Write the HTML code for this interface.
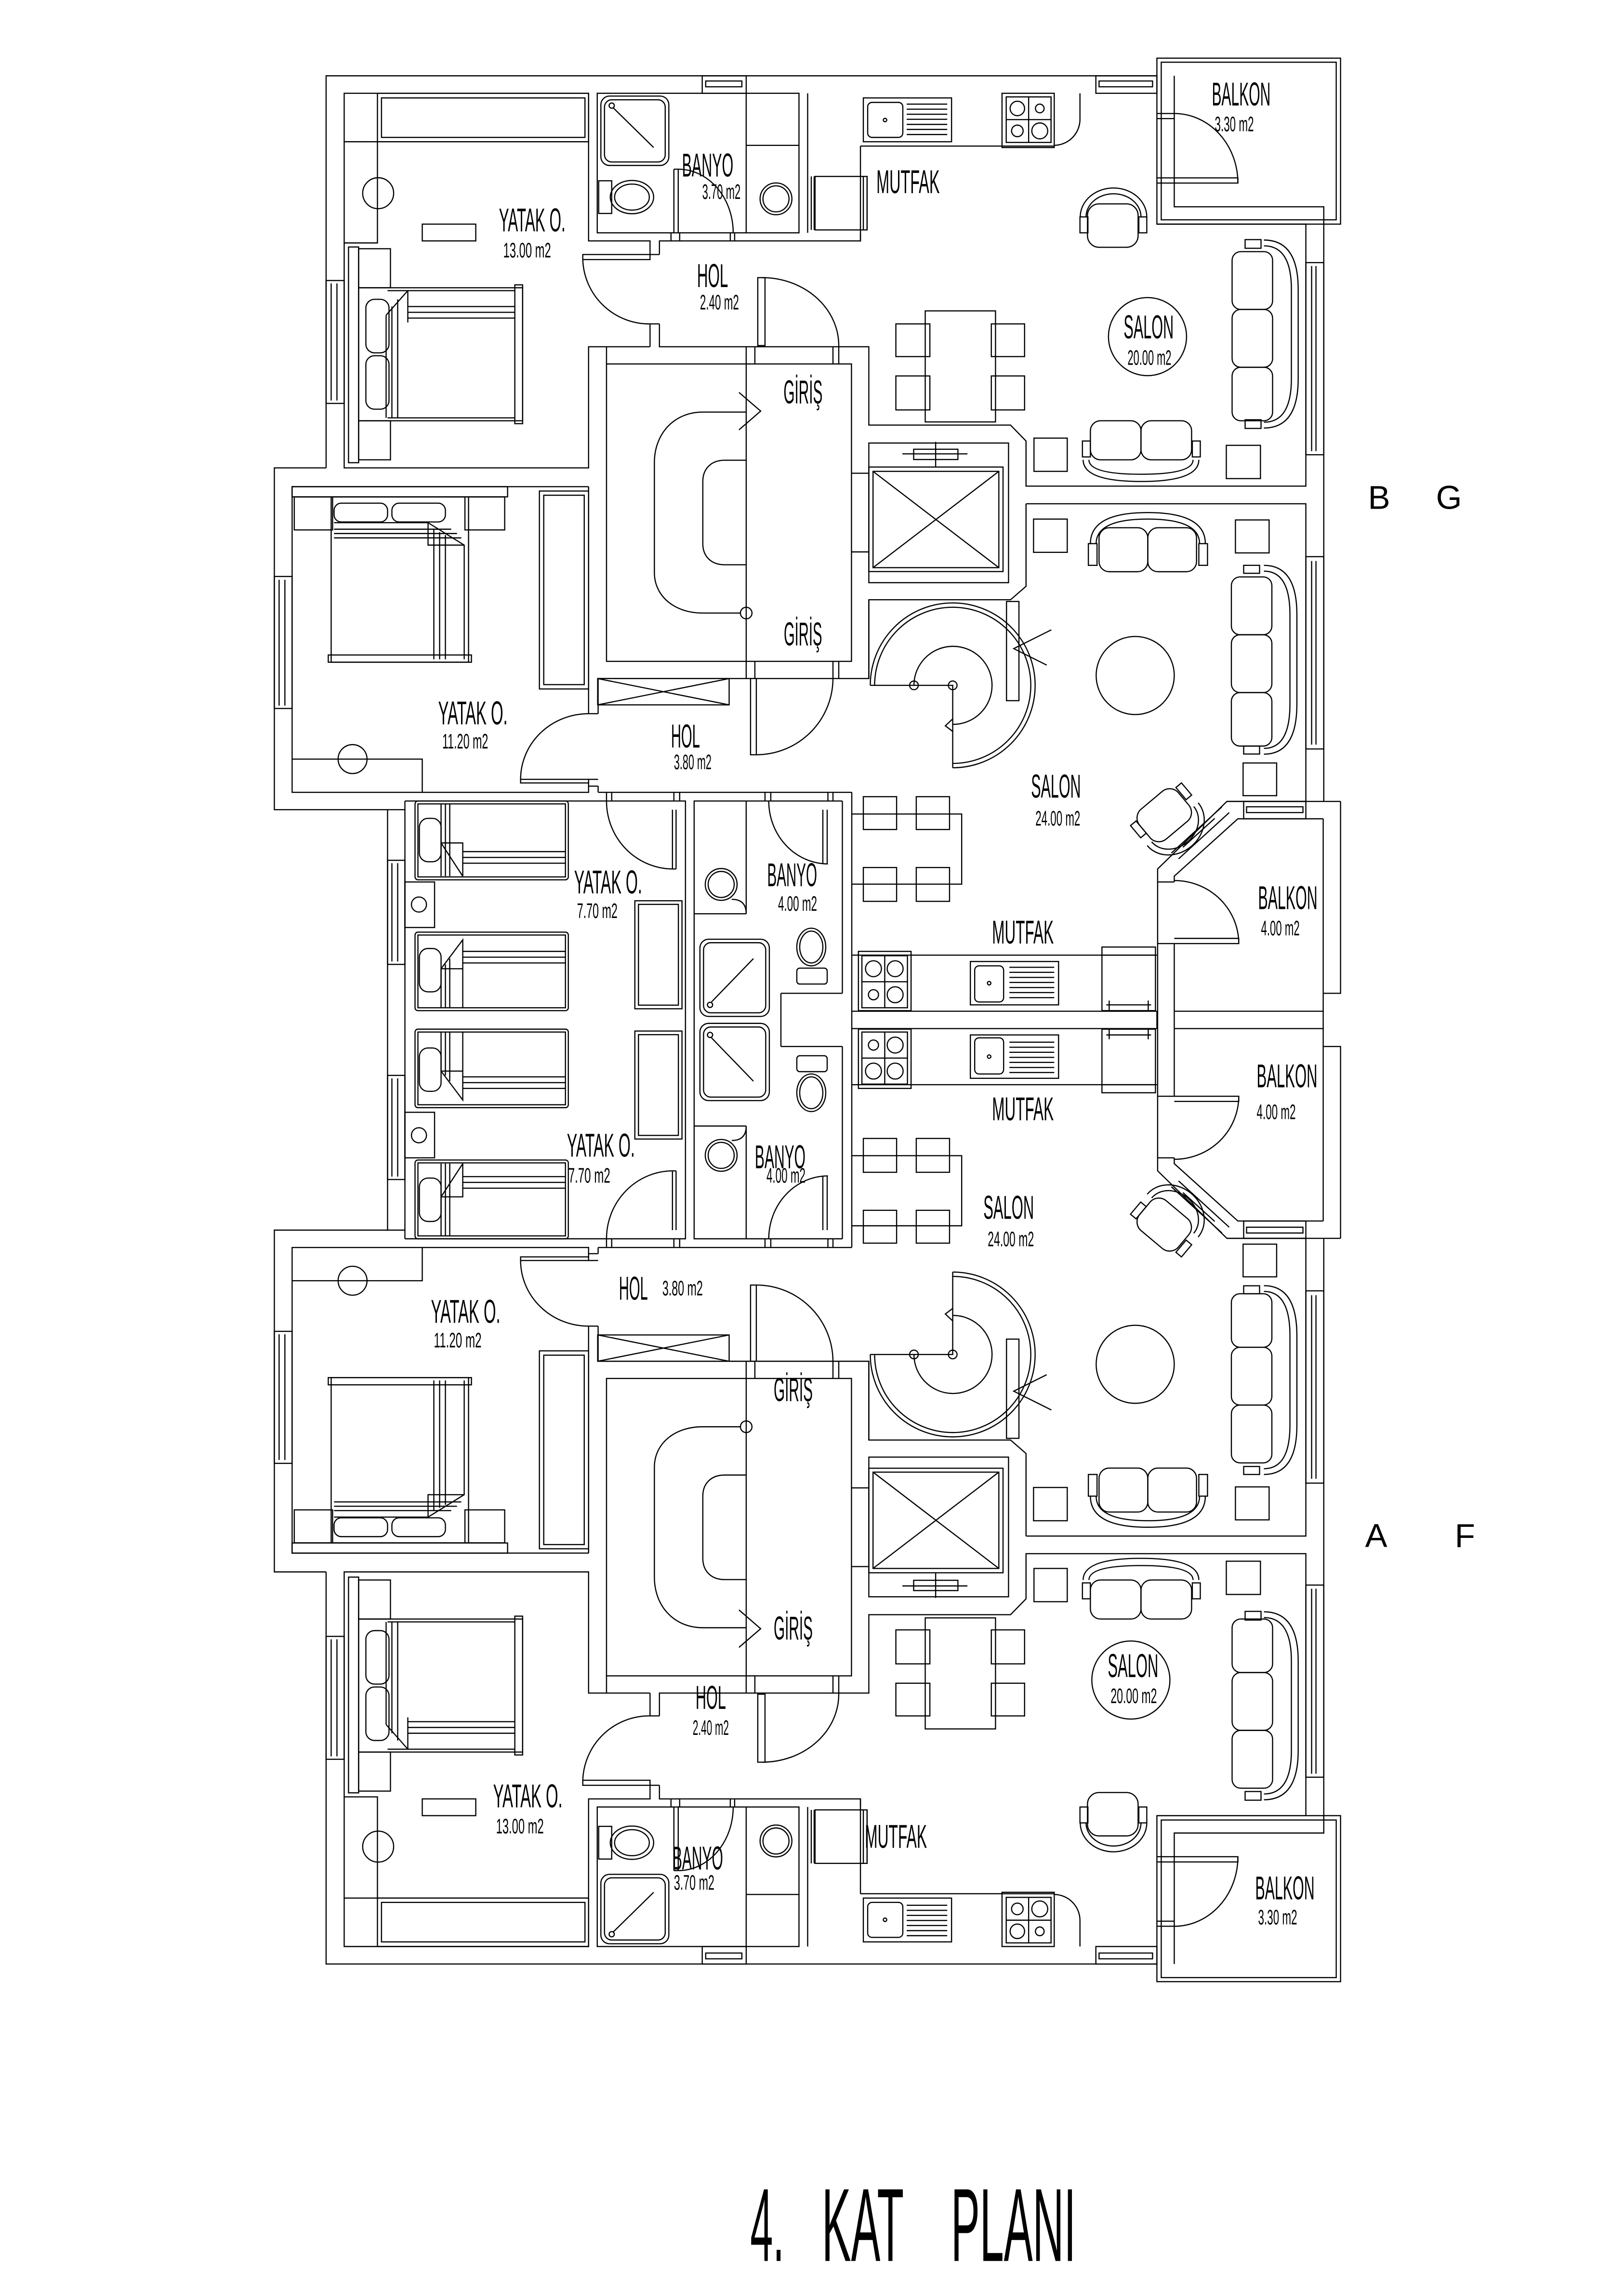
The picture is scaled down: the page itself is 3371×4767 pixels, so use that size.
<!DOCTYPE html>
<html><head><meta charset="utf-8"><style>
html,body{margin:0;padding:0;background:#fff;}
svg{display:block;}
text{font-family:"Liberation Sans",sans-serif;fill:#000;}
</style></head><body>
<svg width="3371" height="4767" viewBox="0 0 1123 1588" xmlns="http://www.w3.org/2000/svg">
<defs>
<g id="h" fill="none" stroke="#000" stroke-width="0.8">
<path d="M225.5,323.6 V52.4 H800"/>
<path d="M225.5,323.6 H189.7 V560 H268 V705.4"/>
<rect x="800" y="40.2" width="127" height="114.8"/>
<rect x="803" y="43" width="121" height="109"/>
<path d="M812,52.4 V143 H915.4 V155"/>
<path d="M800,78.5 H812 M800,82 H812 M800,123 H812 M800,126.6 H812"/>
<path d="M812,126.6 H856 V123 H812"/>
<path d="M812,78.5 A44,48 0 0 1 856,126.6"/>
<path d="M915.4,155 V554.3"/>
<path d="M800,155 H903 V336.2 H709.5 V305 L698.8,294 H600.8 V239.8 H455.6"/>
<path d="M449.5,239.8 H407 V323.6 H238 V64.5 H407 V166.6 H449.5 V176 M449.5,224 V239.8"/>
<path d="M456,176 V166.6 H595 V161 M456,224 V239.8"/>
<path d="M449.5,176 H456 M449.5,224 H456"/>
<path d="M403,176 H449.5 V179.5 H403 Z"/>
<path d="M403,179.5 A46,46 0 0 0 449.5,224"/>
<rect x="485.6" y="52.4" width="30.4" height="12.1"/><path d="M488,56 H513 V60 H488 Z"/>
<rect x="757.8" y="52.4" width="42.2" height="12.1"/><path d="M760,56 H797 V60 H760 Z"/>
<rect x="903" y="181.6" width="12.4" height="132.9"/><path d="M907,184 V312 M910,184 V312"/>
<rect x="903" y="385" width="12.4" height="133"/><path d="M907,388 V515 M910,388 V515"/>
<rect x="225.5" y="194" width="12.5" height="85"/><path d="M229,196 V277 M233,196 V277"/>
<rect x="189.7" y="398.7" width="12.3" height="91.3"/><path d="M193,401 V488 M197,401 V488"/>
<rect x="268" y="595" width="12" height="72"/><path d="M271,597 V665 M275,597 V665"/>
<path d="M709.5,348.4 H903 V554.3 H848.4 L800.5,601 V705.4"/>
<path d="M709.5,348.4 V405.5 L698.8,414.8 H600.8 V469.3 H413.6"/>
<path d="M915,566.3 H856 L812,606 V610 M812,652.6 V705.4"/>
<path d="M927,554.3 V687 H915 V705.4 M915,566.3 V687 M848.4,554.3 H927"/>
<rect x="860" y="554.3" width="43" height="12"/><path d="M862,558 H901 V562 H862 Z"/>
<path d="M810,590 L845,558 M815,594 L850,562 M818,586 L840,566"/>
<path d="M800.5,610 H812 M800.5,652.6 H812"/>
<path d="M812,652.6 H856.6 V649 H812"/>
<path d="M812,609 A44.6,43.6 0 0 1 856.6,652.6"/>
<path d="M812,699.4 H915"/>
<path d="M589,548 V705.4 M582.5,554 V687 M540,687 H582.5 M540,687 V705.4"/>
<path d="M589,660.6 H800 M589,699.4 H800 M800,699.4 V705.4"/>
<rect x="593.6" y="658" width="36.4" height="41"/><rect x="596" y="661" width="31.5" height="36"/>
<path d="M596,679 H627.5 M611.8,661 V697"/>
<circle cx="604" cy="670" r="5.5"/><circle cx="619" cy="670" r="5.5"/><circle cx="604" cy="688" r="3.5"/><circle cx="619" cy="688" r="5.5"/>
<rect x="671" y="665" width="61" height="30"/><rect x="674" y="668" width="20" height="25" rx="3"/><circle cx="684" cy="680" r="1.2"/>
<path d="M698,669 H729 M698,672.5 H729 M698,676 H729 M698,679.5 H729 M698,683 H729 M698,686.5 H729 M698,690 H729"/>
<rect x="762" y="655" width="37" height="44"/><path d="M762,660.6 H799 M765,695 H796 M767,692 V699 M794,692 V699"/>
<path d="M558.5,161 V64.5 M595,101 H729 M595,101 V167 M746.8,64.5 V82.5 A18,18 0 0 1 729,100.5"/>
<rect x="597" y="67.7" width="61" height="30.3"/><rect x="600" y="70.8" width="24.3" height="24.2" rx="3"/><circle cx="612" cy="83" r="1.2"/>
<path d="M627,72 H655 M627,75.5 H655 M627,79 H655 M627,82.5 H655 M627,86 H655 M627,89.5 H655 M627,93 H655"/>
<rect x="692.9" y="64.5" width="36.1" height="37.5"/><rect x="695.8" y="67" width="31" height="31.5"/>
<path d="M695.8,82.7 H726.8 M711.3,67 V98.5"/>
<circle cx="703.5" cy="75" r="5"/><circle cx="719" cy="75" r="3"/><circle cx="703.5" cy="90.5" r="4"/><circle cx="719" cy="90.5" r="5.5"/>
<rect x="563.6" y="122" width="36" height="37"/><path d="M561,122 V159 M563,122 V159 M597,122 V159 M599.6,122 V159"/>
<rect x="413" y="64.5" width="139.5" height="96.5"/>
<path d="M516,64.5 V161 M516,100.5 H552.5"/>
<circle cx="536.6" cy="137.5" r="11"/><circle cx="536.6" cy="137.5" r="9"/>
<rect x="415.5" y="66.4" width="47" height="48" rx="6"/><rect x="418" y="69" width="42" height="43" rx="5"/>
<circle cx="423" cy="73" r="1.8"/><path d="M424,74.5 L452,102"/>
<rect x="414" y="125" width="9" height="22.6"/><ellipse cx="437" cy="136.3" rx="15" ry="11.5"/><ellipse cx="437" cy="136.3" rx="12" ry="9"/>
<path d="M466,117 V161 M469,117 V161 M466,117 H469"/>
<path d="M469,117 A38,44 0 0 1 507,161"/>
<path d="M464,161 V166.6 M470,161 V166.6 M505,161 V166.6 M508,161 V166.6"/>
<rect x="261" y="64.5" width="146" height="33.5"/><rect x="263.8" y="67.7" width="140.7" height="27.3"/>
<path d="M238,98 H407 M261,98 V168 H238"/>
<circle cx="261.5" cy="133.6" r="10.7"/>
<rect x="292" y="155" width="37" height="11.6"/>
<rect x="241" y="170.8" width="7" height="149.2"/>
<rect x="248" y="172" width="22" height="27"/><rect x="248" y="291" width="22" height="27"/>
<rect x="248" y="199" width="113.4" height="92"/>
<rect x="356" y="197" width="5.4" height="96"/>
<rect x="253" y="207" width="16" height="37" rx="6"/><rect x="253" y="246" width="16" height="37" rx="6"/>
<path d="M267,218 L282,201 M267,218 V289 M271,212 V289 M275,207 V289 M282,201 V223 M268,201 H356 M282,212 H356 M282,216 H356 M282,220 H356 M268,289 H356"/>
<path d="M516,239.8 V251.7 M522,239.8 V251.7 M576,239.8 V251.7 M580,239.8 V251.7"/>
<path d="M524,192 H529 V239 H524 Z"/>
<path d="M527,192 A53,47 0 0 1 580,239.8"/>
<rect x="419.4" y="251.7" width="169.4" height="205.7"/>
<path d="M516,251.7 V457.4"/>
<path d="M588.8,327.3 H600.8 M588.8,381.7 H600.8"/>
<path d="M516,285 H486 C466,285 452.5,300 452.5,320 V396 C452.5,412 466,424 486,424 H512"/>
<circle cx="516" cy="424" r="4"/>
<path d="M516,318.3 H501 C492,318.3 486,324 486,333 V376 C486,385 492,390.6 501,390.6 H516"/>
<path d="M511,271.4 L526,284.3 L511,297.3"/>
<rect x="600.8" y="306.4" width="96.6" height="96.6"/>
<rect x="600.8" y="323" width="92.8" height="72.3"/>
<rect x="603.7" y="326" width="87" height="66.6"/>
<path d="M603.7,326 L690.7,392.6 M690.7,326 L603.7,392.6"/>
<rect x="631.8" y="310.7" width="30.6" height="7.1"/><path d="M624,313.9 H669 M647,305.6 V322.6"/>
<path d="M601.8,474 A57,57 0 1 1 658.8,531 M604.8,474 A54,54 0 1 1 658.8,528"/>
<path d="M601.8,474 H658.8 V531"/>
<path d="M632,474 A27,27 0 1 1 658.8,501"/>
<circle cx="632" cy="474" r="3"/><circle cx="658.8" cy="474" r="3"/>
<path d="M659,497 L653.7,502 L659,506"/>
<rect x="696" y="416" width="8.6" height="68.6"/>
<path d="M727,435.6 L701,448.6 L723.8,460"/>
<rect x="639.8" y="215" width="48.6" height="76.8"/>
<rect x="619.5" y="224" width="23.5" height="22.6"/><rect x="619.5" y="260" width="23.5" height="23.5"/>
<rect x="685.5" y="224" width="23" height="22.6"/><rect x="685.5" y="260" width="23" height="23.5"/>
<rect x="715" y="303" width="23" height="23"/><rect x="848" y="308" width="23.6" height="23"/>
<rect x="752" y="141" width="35" height="30" rx="8"/>
<path d="M747,150 A23,20 0 0 1 793,150 M751,150 A19,16 0 0 1 789,150"/>
<rect x="746.8" y="150" width="5.5" height="11"/><rect x="787.5" y="150" width="5.5" height="11"/>
<rect x="754" y="291" width="35" height="27" rx="7"/><rect x="789" y="291" width="35" height="27" rx="7"/>
<path d="M749,318 Q749,333 789,333 Q829,333 829,318 M753,318 Q753,328 789,328 Q825,328 825,318"/>
<rect x="748.5" y="305" width="5.5" height="11"/><rect x="824.5" y="305" width="5.5" height="11"/>
<rect x="852" y="174" width="28" height="40" rx="6"/><rect x="852" y="214" width="28" height="40" rx="6"/><rect x="852" y="254" width="28" height="37" rx="6"/>
<path d="M874,166 Q897.7,166 897.7,200 V262 Q897.7,296 874,296 M874,170 Q893,170 893,200 V262 Q893,292 874,292"/>
<rect x="861" y="165.7" width="11" height="6"/><rect x="861" y="290.3" width="11" height="6"/>
<rect x="714.7" y="359" width="23.3" height="23"/><rect x="854.3" y="359.6" width="23.3" height="22.8"/><rect x="859.6" y="527.7" width="23.2" height="22.6"/>
<rect x="760" y="365" width="33.7" height="30.4" rx="7"/><rect x="793.7" y="365" width="33.7" height="30.4" rx="7"/>
<path d="M754,376 Q754,354.5 793.7,354.5 Q833.5,354.5 833.5,376 M758,376 Q758,359 793.7,359 Q829.5,359 829.5,376"/>
<rect x="752.6" y="376" width="6" height="15"/><rect x="829" y="376" width="6" height="15"/>
<rect x="851.5" y="399" width="28" height="40" rx="6"/><rect x="851.5" y="439" width="28" height="40" rx="6"/><rect x="851.5" y="479" width="28" height="37" rx="6"/>
<path d="M874,391 Q896.8,391 896.8,425 V487 Q896.8,521.6 874,521.6 M874,395 Q892,395 892,425 V487 Q892,517.6 874,517.6"/>
<rect x="860" y="391" width="11" height="5.5"/><rect x="860" y="516" width="11" height="5.5"/>
<ellipse cx="785" cy="467.2" rx="27" ry="27"/>
<g transform="rotate(-40 800 557)">
<rect x="782" y="552" width="35" height="27" rx="8"/>
<path d="M777,558 A23,20 0 0 1 823,558 M781,558 A19,16 0 0 1 819,558" transform="rotate(180 800 566)"/>
<rect x="777" y="556" width="5" height="11"/><rect x="818" y="556" width="5" height="11"/>
</g>
<path d="M589,563 H665 V611.5 H589"/>
<rect x="597" y="551" width="23" height="22.7"/><rect x="633.6" y="551" width="23" height="22.7"/>
<rect x="597" y="600" width="23" height="23.4"/><rect x="633.6" y="600" width="23" height="23.4"/>
<path d="M407,336.6 H202 V548 H407 V541 M407,493.6 V336.6"/>
<path d="M413.6,469.3 V493.6 M413.6,543.7 V548 M407,493.6 H413.6 M407,539 H413.6 M407,543.7 H413.6"/>
<path d="M360,539 H407 V541.5 H360 Z"/>
<path d="M360,539 A47,45.4 0 0 1 407,493.6"/>
<path d="M407,336.6 V469.3 M419.4,251.7 V239.8"/>
<rect x="373" y="339.6" width="34" height="136.9"/><rect x="376" y="342.5" width="28" height="131"/>
<rect x="202" y="336.6" width="149" height="7"/>
<rect x="203.5" y="343.7" width="26.5" height="22.8"/><rect x="321.5" y="343.7" width="27.5" height="22.8"/>
<rect x="229" y="343.7" width="95" height="114.3"/><rect x="227" y="453" width="99" height="5"/>
<rect x="231" y="348" width="37" height="13" rx="5"/><rect x="271" y="348" width="37" height="13" rx="5"/>
<path d="M231,361.5 H296 L321,377 V456 M296,361.5 V377 H321 M231,366 H312 M231,369 H316 M231,372 H319 M300,366 V456 M304,368 V456 M308,370 V456"/>
<path d="M202,525 H292 V548"/><circle cx="243.8" cy="525" r="10"/>
<rect x="413.3" y="469.3" width="90.9" height="18.2"/><path d="M413.3,469.3 L504.2,487.5 M504.2,469.3 L413.3,487.5"/>
<path d="M413.6,548 H589 M516,457.4 V469.3 M522,457.4 V469.3 M576,457.4 V469.3 M580,457.4 V469.3"/>
<path d="M519,469.3 H523 V522 H519 Z"/>
<path d="M523,522 A53,53 0 0 0 576,469.3"/>
<path d="M280,554 H474 V705.4 M480,705.4 V554 H582.5 M280,554 V705.4 M268,560 H280"/>
<path d="M419.4,548 V554 M423,548 V554 M466,548 V554 M470,548 V554 M529,548 V554 M533,548 V554 M572.5,548 V554 M576,548 V554"/>
<rect x="287" y="554" width="106" height="54.5" rx="2"/><rect x="289" y="556" width="102" height="50.5"/>
<rect x="290" y="566" width="15" height="30" rx="6"/>
<path d="M305,556 V606 M308,556 V606 M311,556 V606 M305,583 H320 V606 M305,583 L320,606 M320,589 H391 M320,593 H391 M320,597 H391"/>
<rect x="287" y="644.7" width="106" height="54.3" rx="2"/><rect x="289" y="646.7" width="102" height="50.3"/>
<rect x="290" y="656" width="15" height="30" rx="6"/>
<path d="M305,670 L320,650 V697 M305,670 V697 M308,667 V697 M311,663 V697 M305,670 H320 M320,658 H391 M320,662 H391 M320,666 H391"/>
<rect x="280" y="610" width="20.5" height="31.5"/><circle cx="289.7" cy="625.6" r="5.2"/>
<rect x="439" y="623" width="32.6" height="74.7"/><rect x="441.5" y="625.5" width="27.6" height="69.7"/>
<path d="M465,560 V601 M467.5,560 V601 M465,601 H467.5"/>
<path d="M419.4,554 A46,47 0 0 0 465,601"/>
<path d="M516,554 V632 M480,632 H516"/>
<path d="M516,632 Q516,622 506,622"/>
<circle cx="498.7" cy="611.7" r="11"/><circle cx="498.7" cy="611.7" r="9"/>
<rect x="484" y="649.6" width="48" height="53.4" rx="6"/><rect x="486.5" y="652" width="43" height="48.5" rx="5"/>
<circle cx="491" cy="695" r="1.8"/><path d="M492,693 L521,663"/>
<ellipse cx="561" cy="655" rx="10" ry="13"/><ellipse cx="561" cy="655" rx="8" ry="11"/>
<rect x="551" y="669.6" width="21" height="11" rx="2"/>
<path d="M569,560 V597.5 M572,560 V597.5"/>
<path d="M531.6,554 A41,43.5 0 0 0 572.5,597.5"/>
<path d="M600.8,414.8 V469.3"/>
</g>
</defs>
<use href="#h"/>
<use href="#h" transform="matrix(1 0 0 -1 0 1410.8)"/>
<g fill="none" stroke="#000" stroke-width="0.8">
<circle cx="793.5" cy="232.8" r="27"/>
<circle cx="782" cy="1162" r="27"/>
</g>
<g font-size="23">
<text x="345" y="160" textLength="46" lengthAdjust="spacingAndGlyphs">YATAK O.</text>
<text x="471.6" y="122" textLength="35.5" lengthAdjust="spacingAndGlyphs">BANYO</text>
<text x="606" y="133.5" textLength="43.8" lengthAdjust="spacingAndGlyphs">MUTFAK</text>
<text x="838" y="73" textLength="40.6" lengthAdjust="spacingAndGlyphs">BALKON</text>
<text x="482" y="198.6" textLength="21.5" lengthAdjust="spacingAndGlyphs">HOL</text>
<text x="777" y="234" textLength="34.6" lengthAdjust="spacingAndGlyphs">SALON</text>
<text x="541.8" y="279" textLength="27" lengthAdjust="spacingAndGlyphs">GİRİŞ</text>
<text x="542" y="446.4" textLength="26.5" lengthAdjust="spacingAndGlyphs">GİRİŞ</text>
<text x="303" y="501" textLength="48" lengthAdjust="spacingAndGlyphs">YATAK O.</text>
<text x="464" y="517" textLength="20" lengthAdjust="spacingAndGlyphs">HOL</text>
<text x="397" y="618" textLength="47" lengthAdjust="spacingAndGlyphs">YATAK O.</text>
<text x="530.5" y="613" textLength="34.5" lengthAdjust="spacingAndGlyphs">BANYO</text>
<text x="713" y="551.6" textLength="34.4" lengthAdjust="spacingAndGlyphs">SALON</text>
<text x="686" y="652.6" textLength="42.6" lengthAdjust="spacingAndGlyphs">MUTFAK</text>
<text x="870" y="628.7" textLength="41" lengthAdjust="spacingAndGlyphs">BALKON</text>
<text x="686" y="774.8" textLength="42.6" lengthAdjust="spacingAndGlyphs">MUTFAK</text>
<text x="869" y="752" textLength="42" lengthAdjust="spacingAndGlyphs">BALKON</text>
<text x="392" y="800" textLength="47" lengthAdjust="spacingAndGlyphs">YATAK O.</text>
<text x="522" y="808" textLength="35" lengthAdjust="spacingAndGlyphs">BANYO</text>
<text x="680" y="843" textLength="35" lengthAdjust="spacingAndGlyphs">SALON</text>
<text x="428" y="899" textLength="20" lengthAdjust="spacingAndGlyphs">HOL</text>
<text x="298" y="915" textLength="48" lengthAdjust="spacingAndGlyphs">YATAK O.</text>
<text x="535" y="969" textLength="27" lengthAdjust="spacingAndGlyphs">GİRİŞ</text>
<text x="535" y="1134" textLength="27" lengthAdjust="spacingAndGlyphs">GİRİŞ</text>
<text x="766" y="1160" textLength="35" lengthAdjust="spacingAndGlyphs">SALON</text>
<text x="481" y="1182" textLength="21" lengthAdjust="spacingAndGlyphs">HOL</text>
<text x="341" y="1250" textLength="48" lengthAdjust="spacingAndGlyphs">YATAK O.</text>
<text x="465" y="1293" textLength="35" lengthAdjust="spacingAndGlyphs">BANYO</text>
<text x="598" y="1278" textLength="43" lengthAdjust="spacingAndGlyphs">MUTFAK</text>
<text x="868" y="1313.7" textLength="41" lengthAdjust="spacingAndGlyphs">BALKON</text>
</g>
<g font-size="14.5">
<text x="348" y="178" textLength="33" lengthAdjust="spacingAndGlyphs">13.00 m2</text>
<text x="485.6" y="137.6" textLength="26.5" lengthAdjust="spacingAndGlyphs">3.70 m2</text>
<text x="840" y="90.7" textLength="27" lengthAdjust="spacingAndGlyphs">3.30 m2</text>
<text x="484" y="214" textLength="27" lengthAdjust="spacingAndGlyphs">2.40 m2</text>
<text x="779.7" y="252.3" textLength="30.3" lengthAdjust="spacingAndGlyphs">20.00 m2</text>
<text x="305.8" y="517.6" textLength="31.8" lengthAdjust="spacingAndGlyphs">11.20 m2</text>
<text x="466" y="532" textLength="26" lengthAdjust="spacingAndGlyphs">3.80 m2</text>
<text x="399" y="635" textLength="28" lengthAdjust="spacingAndGlyphs">7.70 m2</text>
<text x="538" y="630" textLength="27" lengthAdjust="spacingAndGlyphs">4.00 m2</text>
<text x="716" y="571" textLength="31" lengthAdjust="spacingAndGlyphs">24.00 m2</text>
<text x="872" y="647" textLength="26.7" lengthAdjust="spacingAndGlyphs">4.00 m2</text>
<text x="869" y="774" textLength="27" lengthAdjust="spacingAndGlyphs">4.00 m2</text>
<text x="393" y="818" textLength="29" lengthAdjust="spacingAndGlyphs">7.70 m2</text>
<text x="530" y="818" textLength="27" lengthAdjust="spacingAndGlyphs">4.00 m2</text>
<text x="683" y="862" textLength="32" lengthAdjust="spacingAndGlyphs">24.00 m2</text>
<text x="458" y="896" textLength="28" lengthAdjust="spacingAndGlyphs">3.80 m2</text>
<text x="300" y="932" textLength="33" lengthAdjust="spacingAndGlyphs">11.20 m2</text>
<text x="768" y="1178" textLength="32" lengthAdjust="spacingAndGlyphs">20.00 m2</text>
<text x="479" y="1200" textLength="25" lengthAdjust="spacingAndGlyphs">2.40 m2</text>
<text x="343" y="1268" textLength="33" lengthAdjust="spacingAndGlyphs">13.00 m2</text>
<text x="466" y="1307" textLength="28" lengthAdjust="spacingAndGlyphs">3.70 m2</text>
<text x="870" y="1331" textLength="27" lengthAdjust="spacingAndGlyphs">3.30 m2</text>
</g>
<g font-size="23">
<text x="946" y="352">B</text>
<text x="993" y="352">G</text>
<text x="944" y="1070">A</text>
<text x="1006" y="1070">F</text>
</g>
<g font-size="72">
<text x="518.8" y="1563.8" textLength="23.5" lengthAdjust="spacingAndGlyphs">4.</text>
<text x="568.3" y="1563.8" textLength="56.7" lengthAdjust="spacingAndGlyphs">KAT</text>
<text x="657.6" y="1563.8" textLength="86.4" lengthAdjust="spacingAndGlyphs">PLANI</text>
</g>
</svg>
</body></html>
